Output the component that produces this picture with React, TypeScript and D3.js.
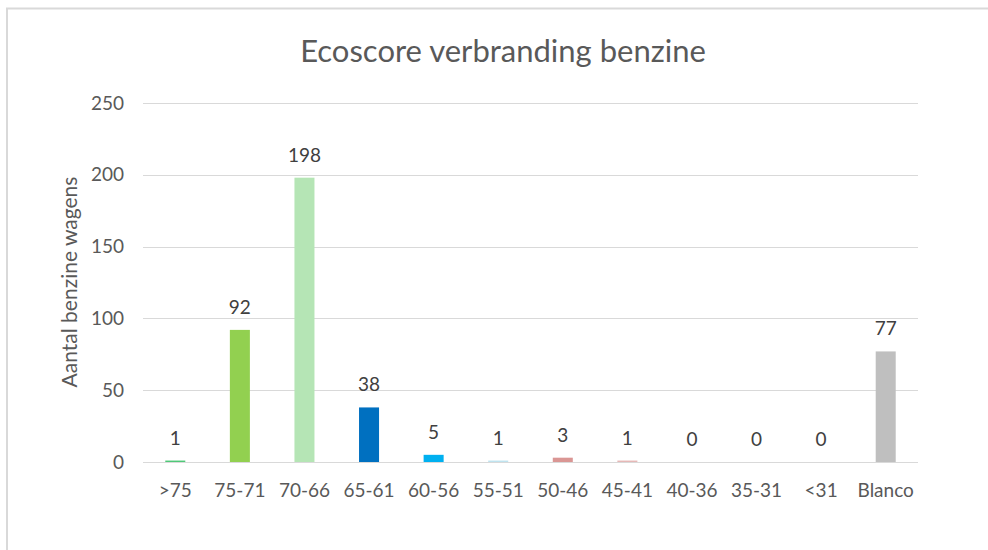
import React, { useEffect, useRef } from "react";
import * as d3 from "d3";

const categories = [">75", "75-71", "70-66", "65-61", "60-56", "55-51", "50-46", "45-41", "40-36", "35-31", "<31", "Blanco"];
const values = [1, 92, 198, 38, 5, 1, 3, 1, 0, 0, 0, 77];
const colors = ["#4fc878", "#92d050", "#b5e5b5", "#0070c0", "#00b0f0", "#bfe3ef", "#da9694", "#e6b8b7", "#cccccc", "#cccccc", "#cccccc", "#bfbfbf"];
const yTicks = [0, 50, 100, 150, 200, 250];
const title = "Ecoscore verbranding benzine";
const yTitle = "Aantal benzine wagens";

const W = 988, H = 550;
const FONT = "Lato, 'Open Sans', sans-serif";

export default function App() {
  const ref = useRef<SVGSVGElement>(null);
  useEffect(() => {
    const svg = d3.select(ref.current);
    svg.selectAll("*").remove();
    svg.append("rect").attr("x", 0).attr("y", 0).attr("width", W).attr("height", H).attr("fill", "#fff");
    svg.append("line").attr("x1", 6).attr("x2", W).attr("y1", 8.5).attr("y2", 8.5).attr("stroke", "#d9d9d9").attr("stroke-width", 2);
    svg.append("line").attr("x1", 7).attr("x2", 7).attr("y1", 8).attr("y2", H).attr("stroke", "#d9d9d9").attr("stroke-width", 2);

    const x = d3.scaleBand<string>().domain(categories).range([143, 918]).paddingInner(0.69).paddingOuter(0.345);
    const y = d3.scaleLinear().domain([0, 250]).range([462, 103]);

    const g = svg.append("g");
    g.selectAll("line.grid").data(yTicks).enter().append("line")
      .attr("x1", 143).attr("x2", 918)
      .attr("y1", d => Math.round(y(d)) + 0.5).attr("y2", d => Math.round(y(d)) + 0.5)
      .attr("stroke", "#d9d9d9").attr("stroke-width", 1);

    g.selectAll("text.ytick").data(yTicks).enter().append("text")
      .attr("x", 124).attr("y", d => y(d)).attr("dy", "0.35em")
      .attr("text-anchor", "end").attr("fill", "#595959")
      .attr("font-family", FONT).attr("font-size", 19).text(d => d);

    g.selectAll("rect.bar").data(values).enter().append("rect")
      .attr("x", (d, i) => x(categories[i])!)
      .attr("width", x.bandwidth())
      .attr("y", d => y(d))
      .attr("height", d => y(0) - y(d))
      .attr("fill", (d, i) => colors[i]);

    g.selectAll("text.lbl").data(values).enter().append("text")
      .attr("x", (d, i) => x(categories[i])! + x.bandwidth() / 2)
      .attr("y", d => y(d) - 16)
      .attr("text-anchor", "middle").attr("fill", "#404040")
      .attr("font-family", FONT).attr("font-size", 19).text(d => d);

    g.selectAll("text.xtick").data(categories).enter().append("text")
      .attr("x", d => x(d)! + x.bandwidth() / 2)
      .attr("y", 497)
      .attr("text-anchor", "middle").attr("fill", "#595959")
      .attr("font-family", FONT).attr("font-size", 19).text(d => d);

    svg.append("text").attr("x", 503).attr("y", 62).attr("text-anchor", "middle")
      .attr("fill", "#595959").attr("font-family", FONT).attr("font-size", 31).text(title);

    svg.append("text").attr("transform", "translate(77,282) rotate(-90)")
      .attr("text-anchor", "middle").attr("fill", "#595959")
      .attr("font-family", FONT).attr("font-size", 21).text(yTitle);
  }, []);
  return (
    <svg ref={ref} width={W} height={H} style={{ position: "fixed", left: 0, top: 0, display: "block" }} />
  );
}
